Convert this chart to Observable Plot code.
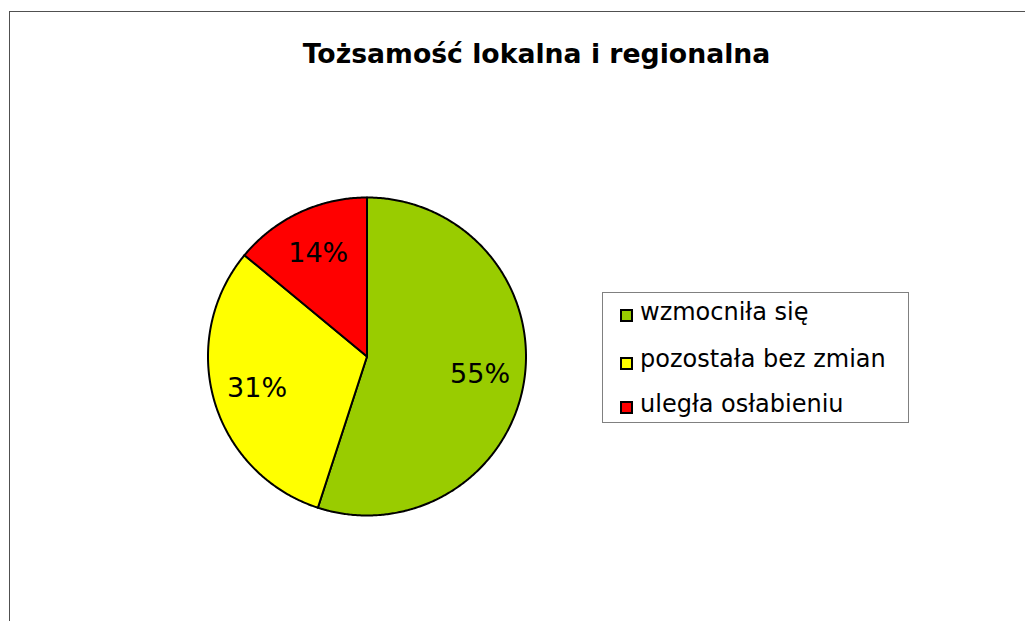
<!DOCTYPE html>
<html>
<head>
<meta charset="utf-8">
<script src="https://cdn.jsdelivr.net/npm/d3@7"></script>
<script src="https://cdn.jsdelivr.net/npm/@observablehq/plot@0.6"></script>
<style>
  html, body { margin: 0; padding: 0; background: #fff; }
  #wrap { position: relative; width: 1025px; height: 621px; overflow: hidden; background: #fff; font-family: "DejaVu Sans", Verdana, sans-serif; }
  #frame { position: absolute; left: 9px; top: 11px; width: 2000px; height: 2000px; border-top: 1px solid #505050; border-left: 1px solid #505050; }
  #chart { position: absolute; left: 0; top: 0; }
  #legend { position: absolute; left: 602px; top: 292px; width: 305px; height: 129px; border: 1px solid #808080; background: #fff; }
  .sw { position: absolute; left: 17px; width: 9px; height: 9px; border: 2px solid #000; }
  .lt { position: absolute; left: 37px; font-size: 24px; line-height: 24px; white-space: nowrap; color: #000; }
</style>
</head>
<body>
<div id="wrap">
  <div id="frame"></div>
  <div id="chart"></div>
  <div id="legend"></div>
</div>
<script>
const title = "Tożsamość lokalna i regionalna";
const categories = ["wzmocniła się", "pozostała bez zmian", "uległa osłabieniu"];
const values = [55, 31, 14];
const colors = ["#99CC00", "#FFFF00", "#FF0000"];

const data = categories.map((c, i) => ({category: c, value: values[i]}));
const arcs = d3.pie().sort(null).value(d => d.value)(data);

// polygon vertices of each slice (angles clockwise from 12 o'clock)
const pts = [];
for (const a of arcs) {
  pts.push({category: a.data.category, x: 0, y: 0});
  const n = Math.max(2, Math.ceil((a.endAngle - a.startAngle) / (Math.PI / 360)));
  for (let k = 0; k <= n; k++) {
    const t = a.startAngle + (a.endAngle - a.startAngle) * k / n;
    pts.push({category: a.data.category, x: Math.sin(t), y: Math.cos(t)});
  }
}
const labels = arcs.map(a => {
  const m = (a.startAngle + a.endAngle) / 2;
  return {label: a.data.value + "%", x: 0.72 * Math.sin(m), y: 0.72 * Math.cos(m)};
});

const cx = 366.5, cy = 356, r = 159;
const plot = Plot.plot({
  width: 1025,
  height: 621,
  margin: 0,
  style: {background: "transparent", fontFamily: "'DejaVu Sans', Verdana, sans-serif"},
  x: {domain: [-1, 1], range: [cx - r, cx + r], axis: null},
  y: {domain: [-1, 1], range: [cy + r, cy - r], axis: null},
  color: {domain: categories, range: colors},
  marks: [
    Plot.line(pts, {x: "x", y: "y", z: "category", fill: "category", stroke: "#000", strokeWidth: 2, strokeLinejoin: "round", curve: "linear-closed"}),
    Plot.text(labels, {x: "x", y: "y", text: "label", fontSize: 27, fill: "#000", textAnchor: "middle", lineAnchor: "middle"}),
    Plot.text([title], {frameAnchor: "top-left", dx: 536, dy: 54, text: d => d, fontSize: 26.7, fontWeight: "bold", fill: "#000", textAnchor: "middle", lineAnchor: "middle"})
  ]
});
document.getElementById("chart").appendChild(plot);

const color = plot.scale("color");
const legend = document.getElementById("legend");
const swTop = [16, 64, 108];
const txtTop = [6.7, 53.7, 98.7];
categories.forEach((c, i) => {
  const sw = document.createElement("div");
  sw.className = "sw";
  sw.style.top = swTop[i] + "px";
  sw.style.background = color.apply(c);
  legend.appendChild(sw);
  const t = document.createElement("div");
  t.className = "lt";
  t.style.top = txtTop[i] + "px";
  t.textContent = c;
  legend.appendChild(t);
});
</script>
</body>
</html>
